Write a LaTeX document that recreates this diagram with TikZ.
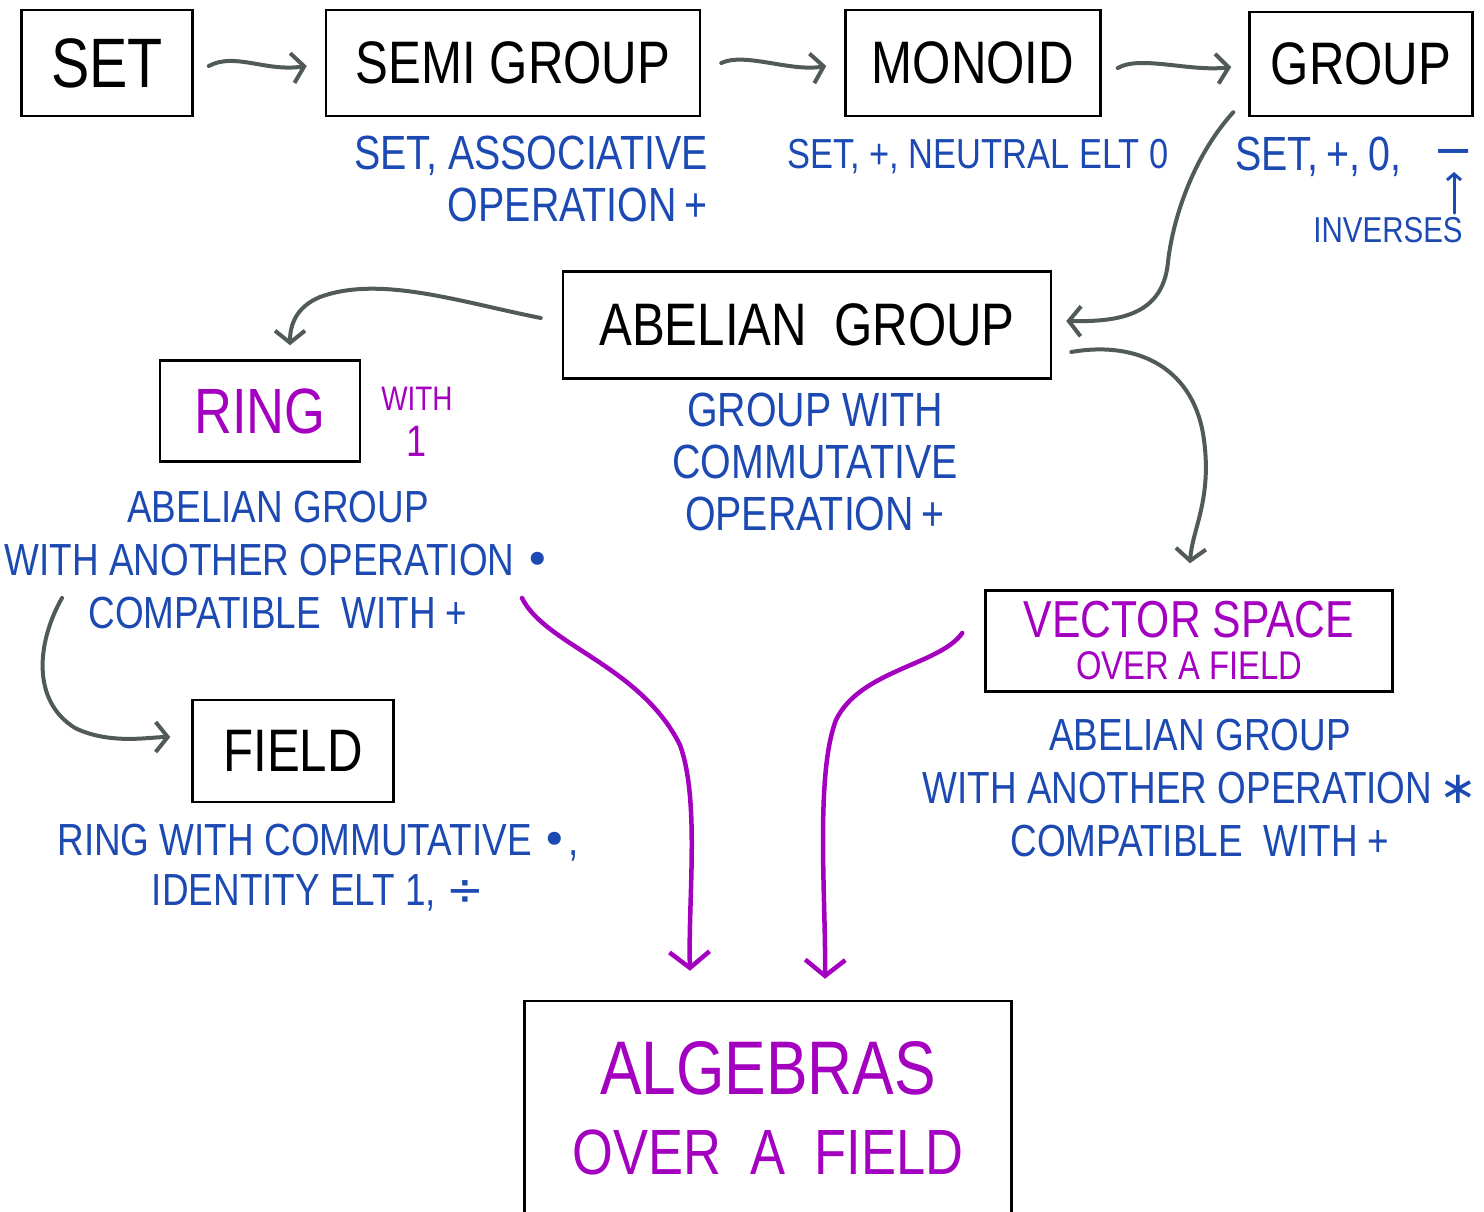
\documentclass[tikz,border=0pt]{standalone}
\usepackage{fontspec}
\setmainfont{Liberation Sans}
\newfontfamily\hand[FakeStretch=0.82]{Liberation Sans}
\newfontfamily\symb{DejaVu Sans}
\usetikzlibrary{arrows.meta}
\definecolor{noteblue}{RGB}{28,74,178}
\definecolor{algpurple}{RGB}{163,0,192}
\definecolor{linkgray}{RGB}{80,90,88}
\newcommand{\handsize}[2]{\hand\fontsize{#1}{#2}\selectfont}

\begin{document}
\begin{tikzpicture}[x=1pt, y=-1pt,
  box/.style={draw, line width=2.5pt, inner sep=0, font=\handsize{60}{66}},
  note/.style={text=noteblue, inner sep=0, align=center, font=\handsize{48}{52}},
  link/.style={draw=linkgray, line width=4pt, line cap=round, -{Straight Barb[length=12pt,width=30pt]}},
  plink/.style={draw=algpurple, line width=4.5pt, line cap=round, -{Straight Barb[length=16pt,width=40pt]}}]
\useasboundingbox (0,0) rectangle (1484,1212);
\clip (0,0) rectangle (1484,1212);

\node[box, minimum width=171pt, minimum height=106pt, font=\handsize{70}{70}] (set) at (107,63) {SET};
\node[box, minimum width=374pt, minimum height=106pt] (semi) at (513,63) {SEMI GROUP};
\node[box, minimum width=255pt, minimum height=106pt] (monoid) at (973,63) {MONOID};
\node[box, minimum width=223pt, minimum height=104pt] (group) at (1361,64) {GROUP};
\node[box, minimum width=488pt, minimum height=107pt] (abel) at (807,325) {ABELIAN\ \ GROUP};
\node[box, minimum width=200pt, minimum height=101pt, text=algpurple, font=\handsize{64}{64}] (ring) at (260,411) {RING};
\node[box, minimum width=201pt, minimum height=102pt] (field) at (293,751) {FIELD};
\node[box, minimum width=407pt, minimum height=101pt, text=algpurple, align=center, font=\handsize{52}{42}] (vs) at (1189,641) {VECTOR SPACE\\{\handsize{40}{42}OVER A FIELD}};
\node[box, minimum width=487pt, minimum height=214pt, text=algpurple, align=center, font=\handsize{76}{80}] (alg) at (768,1108) {ALGEBRAS\\{\handsize{64}{80}OVER\ \ A\ \ FIELD}};

\node[note, align=right, anchor=east] (semiops) at (708,179) {SET,\ ASSOCIATIVE\\OPERATION\,+};
\node[note, font=\handsize{42}{48}] (monops) at (978,157) {SET,\ +,\ NEUTRAL\ ELT\ 0};
\node[note, anchor=west] (grpops) at (1235,157) {SET,\,+,\,0,};
\node[note] (minus) at (1454,158) {{\symb −}};
\node[note, font=\handsize{36}{40}] (inv) at (1388,230) {INVERSES};
\node[note] (abops) at (815,462) {GROUP\ WITH\\COMMUTATIVE\\OPERATION\,+};
\node[note, text=algpurple, font=\handsize{34}{46}] (withone) at (417,422) {WITH\\{\handsize{44}{46}1}};
\node[note, font=\handsize{45}{53}] (ringnote) at (278,560) {ABELIAN\ GROUP\\WITH\ ANOTHER\ OPERATION\ {\symb •}\\COMPATIBLE\ \ WITH\ +};
\node[note, font=\handsize{45}{50}] (fieldnote) at (318,868) {RING\ WITH\ COMMUTATIVE\ {\symb •},\\IDENTITY\ ELT\ 1,\ {\symb ÷}};
\node[note, font=\handsize{45}{53}] (vsnote) at (1200,788) {ABELIAN\ GROUP\\WITH\ ANOTHER\ OPERATION\,{\symb ∗}\\COMPATIBLE\ \ WITH\ +};

\coordinate (fromring) at (62,598);
\coordinate (toalg) at (522,598);

\draw[link] ([xshift=15pt,yshift=-3pt]set.east) .. controls (235,52) and (265,72) .. ([xshift=-18pt,yshift=-3pt]semi.west);
\draw[link] ([xshift=20pt]semi.east) .. controls (745,52) and (790,72) .. ([xshift=-18pt,yshift=-3pt]monoid.west);
\draw[link] ([xshift=16pt,yshift=-5pt]monoid.east) .. controls (1140,55) and (1190,72) .. ([xshift=-17pt,yshift=-3pt]group.west);
\draw[link] ([xshift=-15pt,yshift=5pt]group.south west) .. controls (1190,160) and (1172,225) .. (1168,262) .. controls (1163,315) and (1120,322) .. ([xshift=14pt,yshift=4pt]abel.east);
\draw[link] ([xshift=-21pt,yshift=7pt]abel.west) .. controls (460,302) and (380,275) .. (320,297) .. controls (296,307) and (290,325) .. ([xshift=30pt,yshift=14pt]ring.north);
\draw[link] ([xshift=19pt,yshift=-27pt]abel.east) .. controls (1140,340) and (1195,370) .. (1204,440) .. controls (1212,500) and (1192,530) .. ([xshift=1pt,yshift=26pt]vs.north);
\draw[link] (fromring) .. controls (38,640) and (30,700) .. (75,728) .. controls (110,745) and (150,737) .. ([xshift=-21pt,yshift=14pt]field.west);
\draw[plink] (toalg) .. controls (545,645) and (640,665) .. (680,745) .. controls (700,800) and (688,900) .. ([xshift=-78pt,yshift=29pt]alg.north);
\draw[plink] ([xshift=-22pt,yshift=8pt]vs.west) .. controls (940,665) and (860,670) .. (836,720) .. controls (815,775) and (826,900) .. ([xshift=57pt,yshift=21pt]alg.north);
\draw[noteblue, line width=3pt, line cap=round, -{Straight Barb[length=6pt,width=14pt]}, shorten <=4pt] (inv.north -| minus) -- ([yshift=-14pt]minus.center);
\end{tikzpicture}
\end{document}
